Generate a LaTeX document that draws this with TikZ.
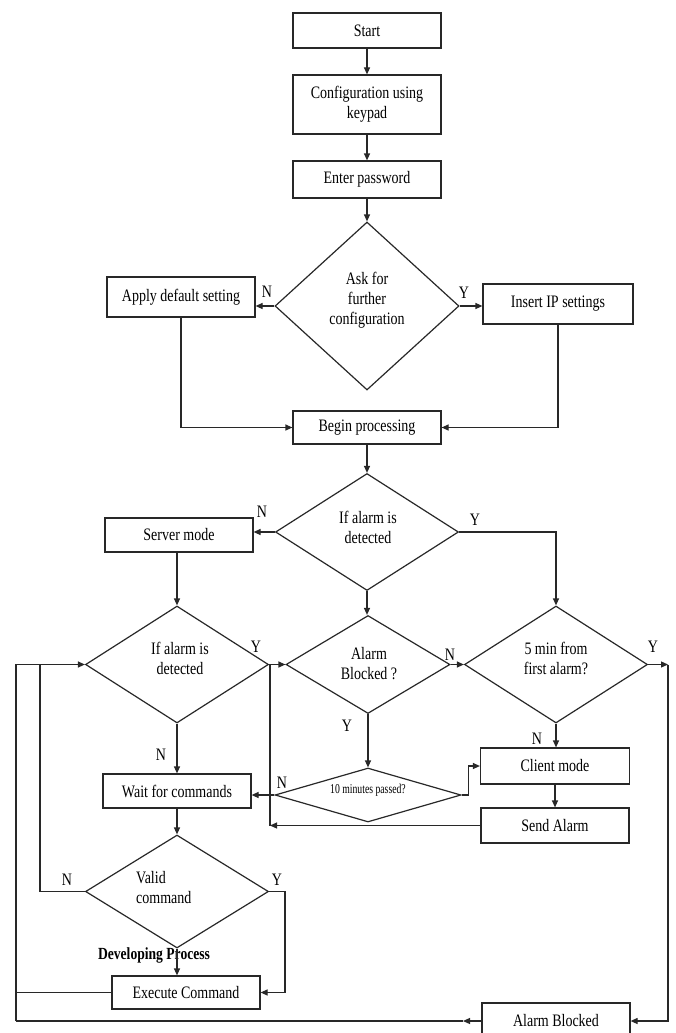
\documentclass[tikz,border=0pt]{standalone}
\usepackage{fontspec}
\setmainfont{Liberation Serif}[FakeStretch=0.8]
\newfontfamily\narrowfont{Liberation Serif}[FakeStretch=0.72]
\usetikzlibrary{shapes.geometric,arrows.meta}
\definecolor{lc}{RGB}{40,40,40}
\newcommand\myfs{\fontsize{17.5}{20}\selectfont}
\begin{document}
\begin{tikzpicture}[x=1pt,y=-1pt,
  box/.style={draw=lc, line width=1.2pt, minimum width=148pt, inner sep=0pt, align=center, font=\myfs},
  dia/.style={draw=lc, line width=1.2pt, diamond, inner sep=0pt},
  txt/.style={font=\myfs, inner sep=0pt, align=center},
  lab/.style={font=\myfs, inner sep=0pt},
  arr/.style={draw=lc, line width=1.2pt, -{Triangle[length=7pt,width=6pt]}},
  ln/.style={draw=lc, line width=1.2pt}]
\useasboundingbox (0,0) rectangle (675,1033);
\fill[white] (0,0) rectangle (675,1033);
\clip (0,0) rectangle (675,1033);

% boxes and decisions
\node[box, minimum height=35pt] (start) at (367,30.5) {Start};
\node[box, minimum height=59pt] (config) at (367,104.5) {Configuration using\\keypad};
\node[box, minimum height=37pt] (pass) at (367,179.5) {Enter password};
\node[dia, minimum width=184pt, minimum height=168pt] (ask) at (367,306) {};
\node[txt] (askt) at (367,300) {Ask for\\further\\configuration};
\node[box, minimum height=40pt] (apply) at (181,297) {Apply default setting};
\node[box, minimum width=150pt, minimum height=40pt] (ip) at (558,304) {Insert IP settings};
\node[box, minimum height=33pt] (begin) at (367,427.5) {Begin processing};

\node[dia, minimum width=183pt, minimum height=117pt] (det) at (367,532) {};
\node[txt] (dett) at (368,527) {If alarm is\\detected};
\node[box, minimum height=34pt] (server) at (179,535) {Server mode};

\node[dia, minimum width=183pt, minimum height=117pt] (dl) at (177,664.5) {};
\node[txt] (dlt) at (180,658) {If alarm is\\detected};
\node[dia, minimum width=164pt, minimum height=98pt] (dab) at (368,664.5) {};
\node[txt] (dabt) at (369,664) {Alarm\\Blocked ?};
\node[dia, minimum width=183pt, minimum height=117pt] (d5) at (556,664.5) {};
\node[txt] (d5t) at (556,658) {5 min from\\first alarm?};

\node[dia, minimum width=186pt, minimum height=54pt] (d10) at (368,795) {};
\node[inner sep=0pt, font=\narrowfont\fontsize{13.5}{15}\selectfont] (d10t) at (368,790) {10 minutes passed?};
\node[box, minimum height=34pt] (wait) at (177,791) {Wait for commands};
\node[box, minimum width=149pt, minimum height=36pt] (client) at (555,766) {Client mode};
\node[box, minimum height=35pt] (send) at (555,825.5) {Send Alarm};

\node[dia, minimum width=183pt, minimum height=113pt] (dv) at (177,891.5) {};
\node[txt, align=left, anchor=west] (dvt) at (136,888) {Valid\\command};
\node[inner sep=0pt, font=\bfseries\fontsize{17}{20}\selectfont] (dev) at (154,955) {Developing Process};
\node[box, minimum height=33pt] (exec) at (186,992.5) {Execute Command};
\node[box, minimum height=36pt] (ab) at (556,1021) {Alarm Blocked};

% labels
\node[lab] (l1) at (267,292) {N};
\node[lab] (l2) at (464,293) {Y};
\node[lab] (l3) at (262,512) {N};
\node[lab] (l4) at (475,520) {Y};
\node[lab] (l5) at (256,647) {Y};
\node[lab] (l6) at (450,655) {N};
\node[lab] (l7) at (653,647) {Y};
\node[lab] (l8) at (347,726) {Y};
\node[lab] (l9) at (537,739) {N};
\node[lab] (l10) at (161,755) {N};
\node[lab] (l11) at (282,783) {N};
\node[lab] (l12) at (67,880) {N};
\node[lab] (l13) at (277,880) {Y};

% connectors
\draw[arr] (start.south) -- (config.north);
\draw[arr] (config.south) -- (pass.north);
\draw[arr] (pass.south) -- (ask.north);
\draw[arr] (ask.west) -- (ask.west -| apply.east);
\draw[arr] (ask.east) -- (ask.east -| ip.west);
\draw[arr] (apply.south) |- (begin.west);
\draw[arr] (ip.south) |- (begin.east);
\draw[arr] (begin.south) -- (det.north);
\draw[arr] (det.west) -- (det.west -| server.east);
\draw[arr] (det.east) -| (d5.north);
\draw[arr] (det.south) -- (det.south |- dab.north);
\draw[arr] (server.south -| dl.north) -- (dl.north);
\draw[arr] (dl.east) -- (dab.west);
\draw[arr] (dl.south) -- (wait.north);
\draw[arr] (dab.east) -- (d5.west);
\draw[arr] (dab.south) -- (d10.north);
\draw[arr] (d10.west) -- (d10.west -| wait.east);
\draw[arr] (d10.east) -- ++(7,0) |- (client.west);
\draw[arr] (d5.south) -- (d5.south |- client.north);
\draw[arr] (client.south) -- (send.north);
\coordinate (sj) at (270,825.5);
\draw[arr] (send.west) -- (sj);
\draw[ln] (sj) -- (sj |- dl.east);
\coordinate (c5) at (668,664.5);
\draw[arr] (d5.east) -- (c5);
\draw[arr] (c5) |- (ab.east);
\draw[arr] (wait.south) -- (dv.north);
\draw[arr] (dv.south) -- (dv.south |- exec.north);
\coordinate (vy) at (285,891.5);
\draw[arr] (dv.east) -- (vy) |- (exec.east);
\coordinate (vn) at (40,891.5);
\draw[ln] (dv.west) -- (vn) -- (vn |- dl.west);
\coordinate (bl) at (16,1021);
\coordinate (abm) at (463,1021);
\draw[arr] (ab.west) -- (abm);
\draw[ln] (abm) -- (bl);
\draw[arr] (bl) |- (dl.west);
\draw[ln] (exec.west) -- (exec.west -| bl);
\end{tikzpicture}
\end{document}
